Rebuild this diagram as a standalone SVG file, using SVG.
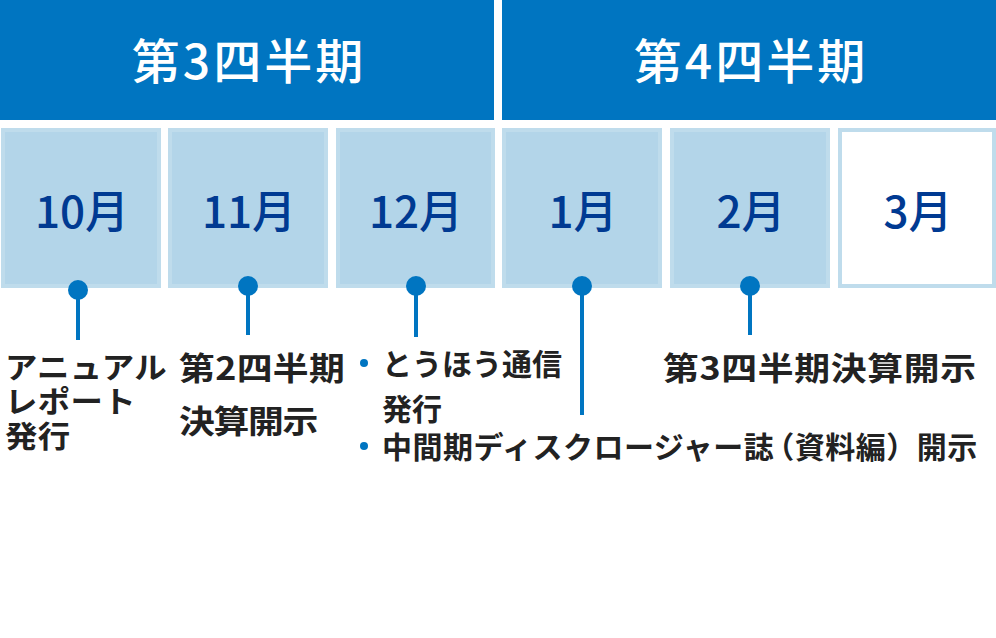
<svg xmlns="http://www.w3.org/2000/svg" width="996" height="638" viewBox="0 0 996 638">
<style>
.hdr{fill:#0075c1}
.hdrt{fill:#fff;font-family:"Noto Sans CJK JP","Noto Sans",sans-serif;font-size:48px;font-weight:500;text-anchor:middle;letter-spacing:3px}
.box{fill:#b3d5e9;stroke:#bfdcec;stroke-width:4}
.box.w{fill:#fff}
.mt{fill:#003a92;font-family:"Noto Sans CJK JP","Noto Sans",sans-serif;font-size:44px;font-weight:500;text-anchor:middle}
.lbl{fill:#222;font-family:"Noto Sans CJK JP","Noto Sans",sans-serif;font-size:30px;font-weight:700}
.big{font-size:32px}
.conn line{stroke:#0075c1;stroke-width:4}
.conn circle{fill:#0075c1}
.bul{fill:#0075c1}
</style>
<rect width="996" height="638" fill="#fff"/>
<g id="q3">
<rect class="hdr" x="0" y="0" width="494" height="120"/>
<text class="hdrt" x="249" y="79">第3四半期</text>
</g>
<g id="q4">
<rect class="hdr" x="502" y="0" width="494" height="120"/>
<text class="hdrt" x="751" y="79">第4四半期</text>
</g>
<g id="m10"><rect class="box" x="3" y="130" width="156" height="156"/><text class="mt" x="82" y="228">10月</text></g>
<g id="m11"><rect class="box" x="170" y="130" width="156" height="156"/><text class="mt" x="249" y="228">11月</text></g>
<g id="m12"><rect class="box" x="338" y="130" width="155" height="156"/><text class="mt" x="416" y="228">12月</text></g>
<g id="m1"><rect class="box" x="504" y="130" width="156" height="156"/><text class="mt" x="583" y="228">1月</text></g>
<g id="m2"><rect class="box" x="672" y="130" width="156" height="156"/><text class="mt" x="751" y="228">2月</text></g>
<g id="m3"><rect class="box w" x="840" y="130" width="154" height="156"/><text class="mt" x="918" y="228">3月</text></g>
<g id="connectors" class="conn">
<line x1="78" y1="290" x2="78" y2="340"/><circle cx="78" cy="290" r="10"/>
<line x1="248" y1="286" x2="248" y2="335"/><circle cx="248" cy="286" r="10"/>
<line x1="416" y1="286" x2="416" y2="337"/><circle cx="416" cy="286" r="10"/>
<line x1="582" y1="286" x2="582" y2="415"/><circle cx="582" cy="286" r="10"/>
<line x1="750" y1="286" x2="750" y2="335"/><circle cx="750" cy="286" r="10"/>
</g>
<g id="l10" transform="translate(5,0) scale(1.08,1)">
<text class="lbl" x="0" y="378" font-size="31" letter-spacing="0.3">アニュアル</text>
<text class="lbl" x="0" y="412" font-size="31" letter-spacing="0.3">レポート</text>
<text class="lbl" x="0" y="447" font-size="31" letter-spacing="0.3">発行</text>
</g>
<g id="l11">
<text class="lbl big" transform="translate(179,380) scale(1.12,1)" letter-spacing="0.3">第2四半期</text>
<text class="lbl big" transform="translate(179,433) scale(1.12,1)" letter-spacing="-1.2">決算開示</text>
</g>
<g id="l12">
<circle class="bul" cx="364" cy="363" r="4"/>
<text class="lbl" x="382" y="375">とうほう通信</text>
<text class="lbl" x="382" y="420">発行</text>
<circle class="bul" cx="364" cy="446" r="4"/>
<text class="lbl" x="382" y="458" letter-spacing="0.5">中間期ディスクロージャー誌<tspan dx="-10">（</tspan>資料編）開示</text>
</g>
<g id="l2">
<text class="lbl big" transform="translate(663,380) scale(1.12,1)" letter-spacing="0.6">第3四半期決算開示</text>
</g>
</svg>
